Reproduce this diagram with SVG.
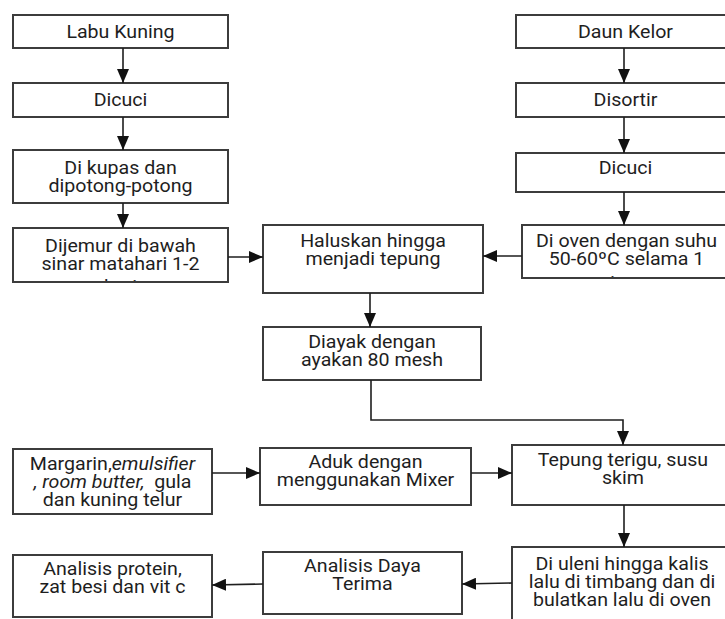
<svg xmlns="http://www.w3.org/2000/svg" width="725" height="619" viewBox="0 0 725 619">
<style>
  rect.box { fill: #ffffff; stroke: #3c3c3c; stroke-width: 2; }
  text { font-family: Roboto, "Liberation Sans", sans-serif; font-size: 18px; fill: #1e1e1e; text-anchor: middle; transform-box: fill-box; transform-origin: center; transform: scaleX(1.09); white-space: pre; }
  .it { font-style: italic; }
  .conn path, .conn line { stroke: #1e1e1e; stroke-width: 1.6; fill: none; marker-end: url(#ah); }
</style>
<defs>
  <marker id="ah" viewBox="0 0 14 12" refX="14" refY="6" markerWidth="14" markerHeight="12" markerUnits="userSpaceOnUse" orient="auto">
    <path d="M0,0 L14,6 L0,12 Z" fill="#111"/>
  </marker>
  <clipPath id="cDijemur"><rect x="14" y="229" width="213" height="52"/></clipPath>
  <clipPath id="cOven"><rect x="523" y="226" width="210" height="51"/></clipPath>
</defs>
<rect width="725" height="619" fill="#ffffff"/>

<g id="labu-kuning"><rect class="box" x="13" y="15" width="215" height="33"/><text x="120.5" y="38">Labu Kuning</text></g>
<g id="dicuci-1"><rect class="box" x="13" y="83" width="215" height="34"/><text x="120.5" y="106">Dicuci</text></g>
<g id="di-kupas"><rect class="box" x="13" y="150" width="215" height="53"/><text x="120.5" y="174">Di kupas dan</text><text x="120.5" y="192">dipotong-potong</text></g>
<g id="dijemur"><rect class="box" x="13" y="228" width="215" height="54"/><g clip-path="url(#cDijemur)"><text x="120.5" y="252">Dijemur di bawah</text><text x="120.5" y="270">sinar matahari 1-2</text><text x="120.5" y="293">hari</text></g></g>

<g id="daun-kelor"><rect class="box" x="516" y="15" width="220" height="33"/><text x="625.5" y="38">Daun Kelor</text></g>
<g id="disortir"><rect class="box" x="516" y="83" width="220" height="34"/><text x="625.5" y="106">Disortir</text></g>
<g id="dicuci-2"><rect class="box" x="516" y="153" width="220" height="39"/><text x="625.5" y="174">Dicuci</text></g>
<g id="di-oven"><rect class="box" x="522" y="225" width="212" height="53"/><g clip-path="url(#cOven)"><text x="626.5" y="247">Di oven dengan suhu</text><text x="626.5" y="265">50-60ºC selama 1</text><text x="626.5" y="289">jam</text></g></g>

<g id="haluskan"><rect class="box" x="263" y="225" width="220" height="68"/><text x="373" y="247">Haluskan hingga</text><text x="373" y="265">menjadi tepung</text></g>
<g id="diayak"><rect class="box" x="263" y="327" width="218" height="53"/><text x="372" y="348">Diayak dengan</text><text x="372" y="366">ayakan 80 mesh</text></g>

<g id="margarin"><rect class="box" x="13" y="449" width="199" height="65"/><text x="112.5" y="470">Margarin,<tspan class="it">emulsifier</tspan></text><text x="112.5" y="488"><tspan class="it">, room butter,</tspan>  gula</text><text x="112.5" y="506">dan kuning telur</text></g>
<g id="aduk"><rect class="box" x="260" y="448" width="211" height="57"/><text x="365.5" y="468">Aduk dengan</text><text x="365.5" y="486">menggunakan Mixer</text></g>
<g id="tepung"><rect class="box" x="512" y="445" width="222" height="60"/><text x="623" y="466">Tepung terigu, susu</text><text x="623" y="484">skim</text></g>
<g id="di-uleni"><rect class="box" x="512" y="547" width="222" height="80"/><text x="622" y="570">Di uleni hingga kalis</text><text x="622" y="588">lalu di timbang dan di</text><text x="622" y="606">bulatkan lalu di oven</text></g>
<g id="analisis-daya"><rect class="box" x="263" y="552" width="199" height="62"/><text x="362.5" y="572">Analisis Daya</text><text x="362.5" y="590">Terima</text></g>
<g id="analisis-protein"><rect class="box" x="13" y="555" width="199" height="62"/><text x="112.5" y="575">Analisis protein,</text><text x="112.5" y="593">zat besi dan vit c</text></g>

<g class="conn" id="connectors">
  <line x1="123" y1="48" x2="123" y2="83"/>
  <line x1="123" y1="117" x2="123" y2="150"/>
  <line x1="123" y1="203" x2="123" y2="228"/>
  <line x1="228" y1="257" x2="263" y2="257"/>
  <line x1="624" y1="48" x2="624" y2="83"/>
  <line x1="624" y1="117" x2="624" y2="153"/>
  <line x1="624" y1="192" x2="624" y2="225"/>
  <line x1="522" y1="256" x2="483" y2="256"/>
  <line x1="370" y1="293" x2="370" y2="327"/>
  <path d="M371,380 L371,420 L623,420 L623,445"/>
  <line x1="212" y1="473" x2="260" y2="473"/>
  <line x1="471" y1="473" x2="512" y2="473"/>
  <line x1="624" y1="505" x2="624" y2="547"/>
  <line x1="512" y1="583" x2="462" y2="584"/>
  <line x1="263" y1="584" x2="212" y2="585"/>
</g>
</svg>
